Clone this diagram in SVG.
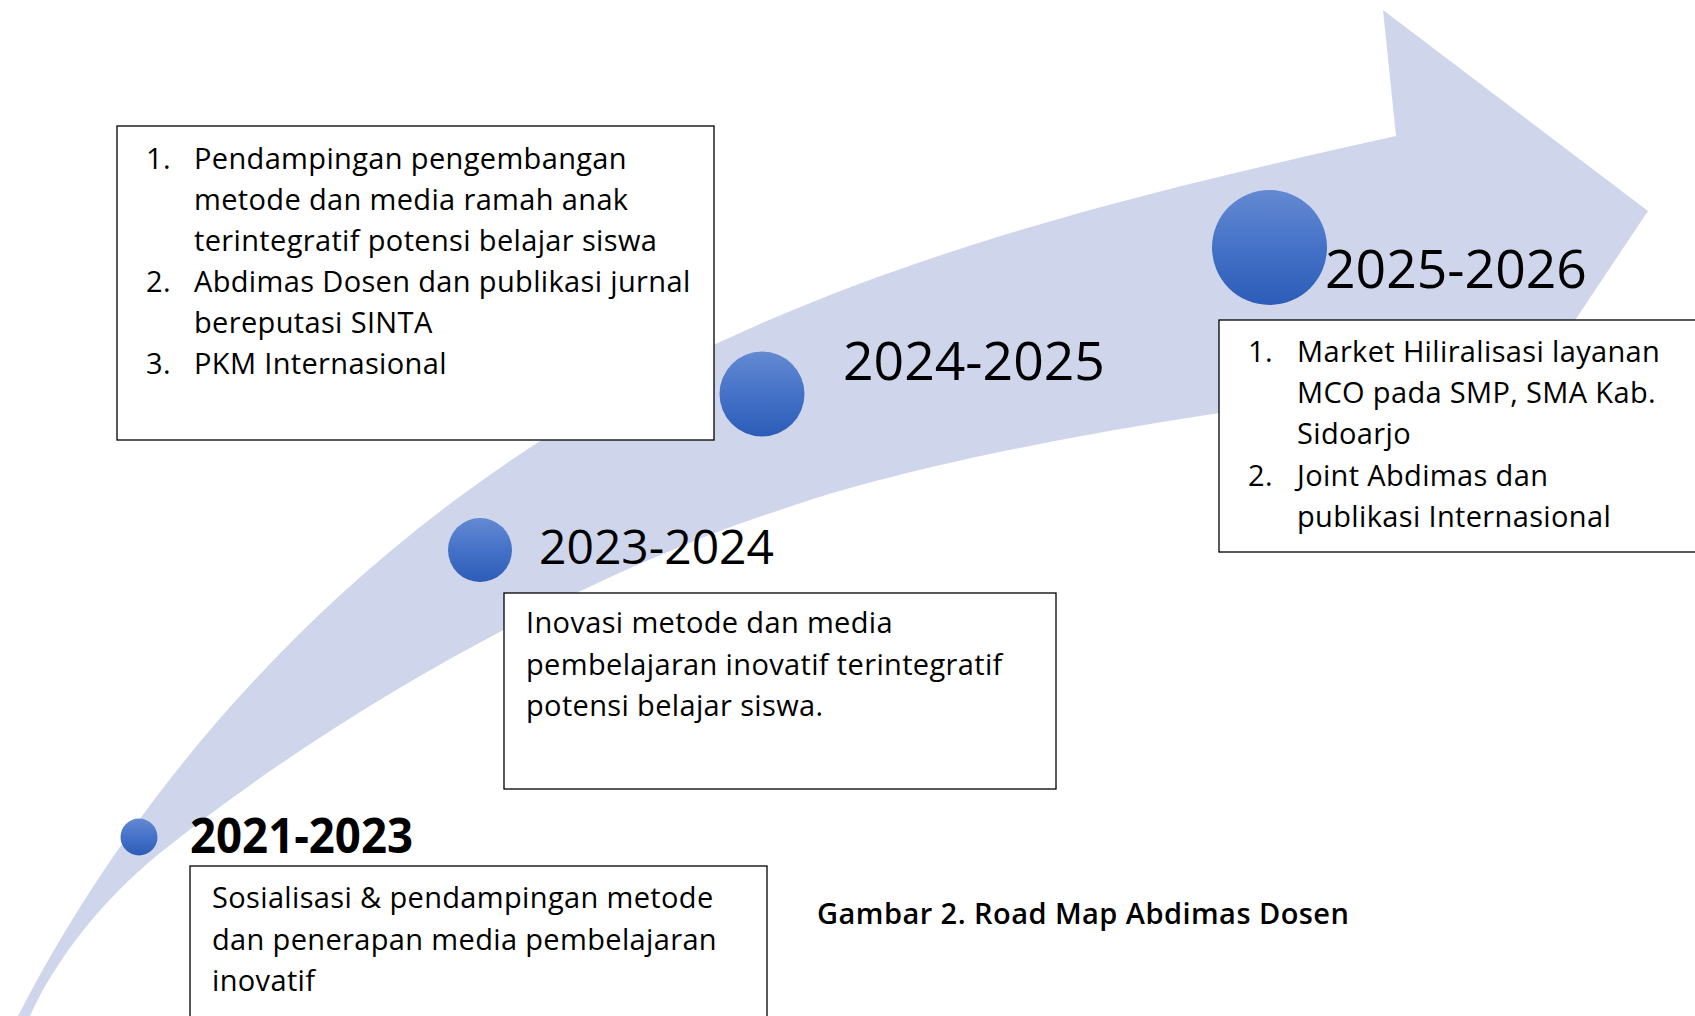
<svg xmlns="http://www.w3.org/2000/svg" width="1695" height="1016" viewBox="0 0 1695 1016">
  <defs>
    <linearGradient id="dot" x1="0" y1="0" x2="0" y2="1">
      <stop offset="0" stop-color="#6389d1"/>
      <stop offset="0.5" stop-color="#4572c8"/>
      <stop offset="1" stop-color="#2c5cb8"/>
    </linearGradient>
    <style>
      .band { fill: #cfd6eb; }
      .dot { fill: url(#dot); }
      .box { fill: #ffffff; stroke: #000000; stroke-width: 1.3; }
      .txt { font-family: "Open Sans", "Noto Sans", sans-serif; font-size: 29px; letter-spacing: 0.35px; fill: #000000; }
      .year { font-family: "Open Sans", "Noto Sans", sans-serif; fill: #000000; }
      .cap { font-family: "Open Sans", "Noto Sans", sans-serif; font-size: 29px; font-weight: 600; letter-spacing: 0.45px; fill: #000000; }
    </style>
  </defs>
  <rect x="0" y="0" width="1695" height="1016" fill="#ffffff"/>

  <g id="connectors">
    <path id="roadmap-arrow" class="band" d="M18,1016 C150,760 380,500 720,342 C950,235 1200,180 1396,136 L1383,10 L1648,211 L1505,425 L1400,390 C1250,405 950,450 780,510 C600,568 350,700 160,853 C103,899 55,960 30,1016 Z"/>
  </g>

  <g id="node-2021-2023">
    <circle class="dot" cx="139" cy="837" r="18.5"/>
    <text class="year" x="190" y="853" font-size="48" font-weight="700" textLength="223" lengthAdjust="spacingAndGlyphs">2021-2023</text>
    <rect class="box" x="190" y="866" width="577" height="160"/>
    <text class="txt" x="212" y="908">Sosialisasi &amp; pendampingan metode</text>
    <text class="txt" x="212" y="950">dan penerapan media pembelajaran</text>
    <text class="txt" x="212" y="991">inovatif</text>
  </g>

  <g id="node-2023-2024">
    <circle class="dot" cx="480" cy="550" r="32"/>
    <text class="year" x="539" y="564" font-size="48">2023-2024</text>
    <rect class="box" x="504" y="593" width="552" height="196"/>
    <text class="txt" x="526" y="633">Inovasi metode dan media</text>
    <text class="txt" x="526" y="675">pembelajaran inovatif terintegratif</text>
    <text class="txt" x="526" y="716">potensi belajar siswa.</text>
  </g>

  <g id="node-2024-2025">
    <rect class="box" x="117" y="126" width="597" height="314"/>
    <text class="txt" x="146" y="169">1.</text>
    <text class="txt" x="194" y="169">Pendampingan pengembangan</text>
    <text class="txt" x="194" y="210">metode dan media ramah anak</text>
    <text class="txt" x="194" y="251">terintegratif potensi belajar siswa</text>
    <text class="txt" x="146" y="292">2.</text>
    <text class="txt" x="194" y="292">Abdimas Dosen dan publikasi jurnal</text>
    <text class="txt" x="194" y="333">bereputasi SINTA</text>
    <text class="txt" x="146" y="374">3.</text>
    <text class="txt" x="194" y="374">PKM Internasional</text>
    <circle class="dot" cx="762" cy="394" r="42.5"/>
    <text class="year" x="843" y="380" font-size="53.5">2024-2025</text>
  </g>

  <g id="node-2025-2026">
    <circle class="dot" cx="1269.5" cy="247.5" r="57.5"/>
    <text class="year" x="1325" y="288" font-size="53.5">2025-2026</text>
    <rect class="box" x="1219" y="320" width="490" height="232"/>
    <text class="txt" x="1248" y="362">1.</text>
    <text class="txt" x="1297" y="362">Market Hiliralisasi layanan</text>
    <text class="txt" x="1297" y="403">MCO pada SMP, SMA Kab.</text>
    <text class="txt" x="1297" y="444">Sidoarjo</text>
    <text class="txt" x="1248" y="486">2.</text>
    <text class="txt" x="1297" y="486">Joint Abdimas dan</text>
    <text class="txt" x="1297" y="527">publikasi Internasional</text>
  </g>

  <g id="caption">
    <text class="cap" x="817" y="924">Gambar 2. Road Map Abdimas Dosen</text>
  </g>
</svg>
